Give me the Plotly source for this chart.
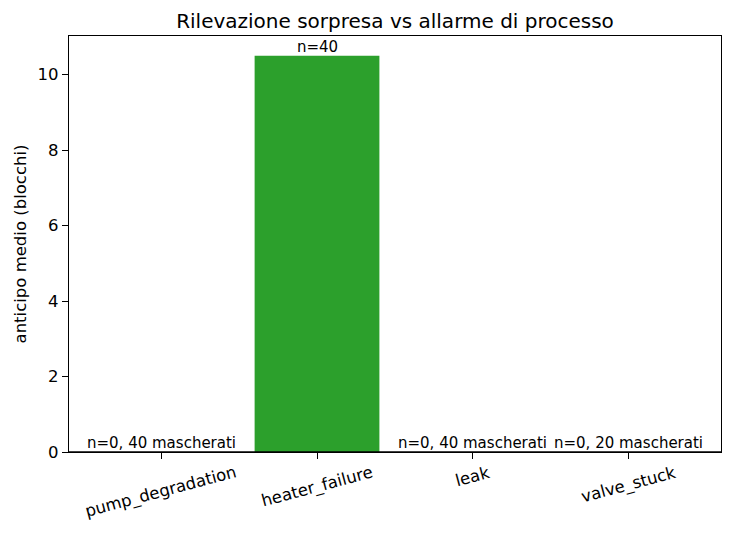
import plotly.graph_objects as go

# fault types and detection results
fault_types = ["pump_degradation", "heater_failure", "leak", "valve_stuck"]
mean_lead = [0.0, 10.5, 0.0, 0.0]   # anticipo medio (blocchi)
n_detected = [0, 40, 0, 0]
n_masked = [40, 0, 40, 20]

labels = []
for n, m in zip(n_detected, n_masked):
    if n > 0:
        labels.append("n=%d" % n)
    else:
        labels.append("n=%d, %d mascherati" % (n, m))

font_family = "DejaVu Sans"

fig = go.Figure()
fig.add_trace(go.Bar(x=fault_types, y=mean_lead, marker_color="#2ca02c", width=0.8,
                     marker_line_width=0, showlegend=False))

for cat, val, lab in zip(fault_types, mean_lead, labels):
    fig.add_annotation(x=cat, y=val, text=lab, showarrow=False, yanchor="bottom",
                       font=dict(family=font_family, size=15, color="black"), yshift=-2)

# rotated category labels, centred under the ticks like matplotlib does
for cat in fault_types:
    fig.add_annotation(x=cat, xref="x", y=0, yref="paper", text=cat, showarrow=False,
                       textangle=-15, xanchor="center", yanchor="top", yshift=-8,
                       font=dict(family=font_family, size=16.5, color="black"))

# baseline at zero
fig.add_shape(type="line", xref="paper", yref="y", x0=0, x1=1, y0=0, y1=0,
              line=dict(color="black", width=1.6))

# page body has an 8px margin, so the figure is a bit smaller than the window
W, H = 724, 526
fig.update_layout(
    width=W, height=H,
    margin=dict(l=61, r=11, t=28, b=82, autoexpand=False),
    paper_bgcolor="white", plot_bgcolor="white",
    font=dict(family=font_family, size=16.5, color="black"),
    title=dict(text="Rilevazione sorpresa vs allarme di processo", x=(61 + W - 11) / 2 / W,
               xanchor="center", y=1 - 6 / H, yanchor="top", font=dict(size=20)),
    bargap=0.2,
)
fig.update_xaxes(range=[-0.59, 3.59], showline=True, linecolor="black", linewidth=1.33,
                 mirror=True, ticks="outside", ticklen=6, tickwidth=1.33, tickcolor="black",
                 showticklabels=False, showgrid=False, automargin=False)
fig.update_yaxes(range=[0, 11.025], dtick=2, showline=True, linecolor="black", linewidth=1.33,
                 mirror=True, ticks="outside", ticklen=6, tickwidth=1.33, tickcolor="black",
                 showgrid=False, zeroline=False, automargin=False,
                 title=dict(text="anticipo medio (blocchi)", standoff=6, font=dict(size=16.5)))

fig.write_html("out.html")
